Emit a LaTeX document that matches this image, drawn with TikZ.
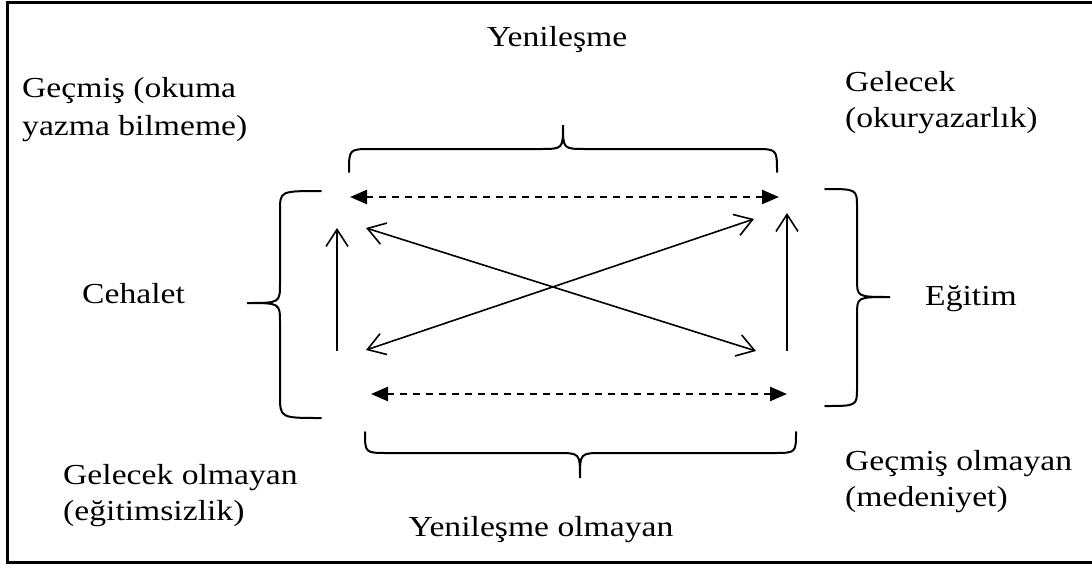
\documentclass[tikz,border=0pt]{standalone}
\usepackage{fontspec}
\setmainfont{Liberation Serif}[FakeStretch=1.16]
\usetikzlibrary{arrows.meta}

\tikzset{
  lbl/.style={inner sep=0pt, font=\fontsize{29}{36}\selectfont},
  brace/.style={line width=2pt, line cap=round},
  solidarrow/.style={line width=1.6pt, -{Straight Barb[length=17pt,width=22pt,line width=1.6pt]}},
  bisolidarrow/.style={line width=1.6pt, {Straight Barb[length=17pt,width=22pt,line width=1.6pt]}-{Straight Barb[length=17pt,width=22pt,line width=1.6pt]}},
  dasharrow/.style={line width=2.4pt, dash pattern=on 7pt off 6pt, {Triangle[length=17pt,width=14pt]}-{Triangle[length=17pt,width=14pt]}},
}

\begin{document}
\begin{tikzpicture}[x=1pt,y=-1pt]
\useasboundingbox (0,0) rectangle (1092,568);
\clip (0,0) rectangle (1092,568);

% outer frame
\draw[line width=3pt] (7,2) rectangle (1120,562);

% labels
\node[lbl, anchor=base] (yen) at (557,46) {Yenileşme};
\node[lbl, anchor=base west] (gec1) at (22,97) {Geçmiş (okuma};
\node[lbl, anchor=base west] (gec2) at (22,135) {yazma bilmeme)};
\node[lbl, anchor=base west] (gel1) at (845,91) {Gelecek};
\node[lbl, anchor=base west] (gel2) at (845,127) {(okuryazarlık)};
\node[lbl, anchor=base west] (ceh) at (82,303) {Cehalet};
\node[lbl, anchor=base west] (egi) at (925,305) {Eğitim};
\node[lbl, anchor=base west] (gol1) at (63,484) {Gelecek olmayan};
\node[lbl, anchor=base west] (gol2) at (63,520) {(eğitimsizlik)};
\node[lbl, anchor=base west] (gmo1) at (845,470) {Geçmiş olmayan};
\node[lbl, anchor=base west] (gmo2) at (845,506) {(medeniyet)};
\node[lbl, anchor=base] (yol) at (541,536) {Yenileşme olmayan};

% braces
\draw[brace] (349,172) .. controls (349,149) .. (372,149) -- (540,149)
  .. controls (563,149) .. (563,125) .. controls (563,149) .. (586,149)
  -- (754,149) .. controls (777,149) .. (777,172);
\draw[brace] (365,432) .. controls (365,453) .. (388,453) -- (557,453)
  .. controls (580,453) .. (580,478) .. controls (580,453) .. (603,453)
  -- (773,453) .. controls (796,453) .. (796,432);
\draw[brace] (321,191) .. controls (280,191) .. (280,211) -- (280,283)
  .. controls (280,303) .. (247,303) .. controls (280,303) .. (280,323)
  -- (280,395) .. controls (280,418) .. (321,418);
\draw[brace] (825,189) .. controls (857,189) .. (857,208) -- (857,279)
  .. controls (857,297) .. (890,297) .. controls (857,297) .. (857,315)
  -- (857,388) .. controls (857,406) .. (825,406);

% arrow end points
\coordinate (tl) at (350,197);
\coordinate (tr) at (779,197);
\coordinate (bl) at (371,394);
\coordinate (br) at (787,394);
\coordinate (lvb) at (337,351);
\coordinate (lvt) at (337,228);
\coordinate (rvb) at (787,351);
\coordinate (rvt) at (787,213);
\coordinate (dat) at (366,228);
\coordinate (dab) at (756,351);
\coordinate (dbb) at (366,350);
\coordinate (dbt) at (754,219);

% connectors
\draw[dasharrow] (tl) -- (tr);
\draw[dasharrow] (bl) -- (br);
\draw[solidarrow] (lvb) -- (lvt);
\draw[solidarrow] (rvb) -- (rvt);
\draw[bisolidarrow] (dat) -- (dab);
\draw[bisolidarrow] (dbb) -- (dbt);
\end{tikzpicture}
\end{document}
